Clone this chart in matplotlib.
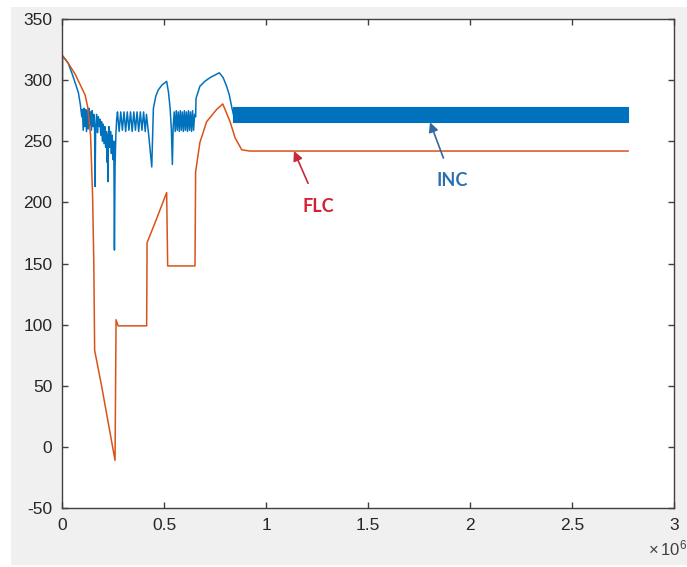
import matplotlib.pyplot as plt
from matplotlib.patches import Rectangle
from matplotlib.ticker import FuncFormatter

# --- values (x in samples, y in the plotted quantity) ---
flc_x = [0, 0.002e6, 0.03e6, 0.064e6, 0.09e6, 0.113e6, 0.126e6, 0.14e6, 0.15e6, 0.156e6,
         0.16e6, 0.195e6, 0.26e6, 0.265e6, 0.275e6, 0.415e6, 0.417e6, 0.46e6, 0.513e6,
         0.518e6, 0.652e6, 0.655e6, 0.676e6, 0.709e6, 0.758e6, 0.788e6, 0.824e6, 0.848e6,
         0.881e6, 0.92e6, 2.775e6]
flc_y = [12, 320, 314, 305, 296, 288, 278, 255, 205, 150,
         79, 49, -11, 104, 99, 99, 167, 185, 208,
         148, 148, 225, 249, 266, 276, 280.5, 266, 253,
         243, 242, 242]

inc_x = [0, 0.002e6, 0.03e6, 0.05e6, 0.07e6, 0.08e6, 0.09e6,
         # start-up ripple with dips
         0.097e6, 0.100e6, 0.104e6, 0.108e6, 0.112e6, 0.116e6, 0.120e6, 0.124e6, 0.128e6,
         0.132e6, 0.136e6, 0.140e6, 0.144e6, 0.148e6, 0.152e6, 0.156e6, 0.160e6, 0.162e6,
         0.165e6, 0.170e6, 0.174e6, 0.178e6, 0.182e6, 0.186e6, 0.190e6, 0.194e6, 0.198e6,
         0.202e6, 0.206e6, 0.210e6, 0.214e6, 0.218e6, 0.220e6, 0.222e6, 0.225e6, 0.227e6,
         0.230e6, 0.234e6, 0.238e6, 0.242e6, 0.246e6, 0.250e6, 0.254e6, 0.257e6, 0.260e6,
         0.264e6, 0.268e6,
         # first ripple band
         0.272e6, 0.280e6, 0.288e6, 0.296e6, 0.304e6, 0.312e6, 0.320e6, 0.328e6, 0.336e6,
         0.344e6, 0.352e6, 0.360e6, 0.368e6, 0.376e6, 0.384e6, 0.392e6, 0.400e6, 0.408e6,
         0.414e6,
         # first hump
         0.425e6, 0.44e6, 0.448e6, 0.46e6, 0.472e6, 0.49e6, 0.513e6, 0.522e6, 0.53e6,
         0.536e6, 0.541e6,
         # second ripple band
         0.545e6, 0.550e6, 0.555e6, 0.560e6, 0.565e6, 0.570e6, 0.575e6, 0.580e6, 0.585e6,
         0.590e6, 0.595e6, 0.600e6, 0.605e6, 0.610e6, 0.615e6, 0.620e6, 0.625e6, 0.630e6,
         0.635e6, 0.640e6, 0.645e6, 0.650e6,
         # second hump
         0.655e6, 0.657e6, 0.676e6, 0.70e6, 0.725e6, 0.771e6, 0.79e6, 0.807e6, 0.82e6,
         0.832e6, 0.84e6]
inc_y = [12, 320, 314, 305, 295, 290, 280,
         270, 276, 259, 277, 262, 276, 258, 275, 260,
         277, 263, 274, 259, 275, 262, 272, 258, 213,
         262, 272, 257, 270, 262, 268, 255, 266, 250,
         264, 248, 262, 245, 258, 233, 255, 217, 254,
         262, 245, 258, 240, 255, 235, 250, 161, 230,
         255, 268,
         274, 258, 274, 259, 274, 258, 274, 259, 274,
         258, 274, 259, 274, 258, 274, 259, 274, 258,
         272,
         255, 229, 277, 287, 292, 296, 299, 290, 277,
         260, 231,
         262, 274, 258, 275, 259, 274, 258, 275, 259,
         274, 258, 275, 259, 274, 258, 275, 259, 274,
         258, 275, 259, 272,
         270, 285, 295, 299, 302, 306, 302, 295, 288,
         278, 272]

# steady-state ripple of INC, too dense to resolve -> drawn as its envelope
inc_band_x = [0.84e6, 2.775e6]
inc_band_lo = [265.5, 265.5]
inc_band_hi = [278, 278]

x_ticks = [0, 0.5e6, 1e6, 1.5e6, 2e6, 2.5e6, 3e6]
y_ticks = [-50, 0, 50, 100, 150, 200, 250, 300, 350]

BLUE = '#0072BD'
ORANGE = '#D95319'

plt.rcParams['font.family'] = ['Liberation Sans', 'DejaVu Sans']
plt.rcParams['axes.unicode_minus'] = False
plt.rcParams['mathtext.fontset'] = 'custom'
plt.rcParams['mathtext.rm'] = 'Liberation Sans'

fig = plt.figure(figsize=(6.87, 5.67), dpi=100, facecolor='white')
# grey window background of the screenshot
fig.patches.append(Rectangle((11 / 687, 0.0035), 1 - 11 / 687, 1 - 7 / 567 - 0.0035,
                             transform=fig.transFigure, facecolor='#f0f0f0',
                             edgecolor='none', zorder=-10))

ax = fig.add_axes([62 / 687, 59 / 567, 612 / 687, 489 / 567])
ax.set_zorder(5)
ax.set_facecolor('white')

ax.plot(inc_x, inc_y, color=BLUE, linewidth=1.1)
ax.fill_between(inc_band_x, inc_band_lo, inc_band_hi, color=BLUE, linewidth=0.8,
                edgecolor=BLUE)
ax.plot(flc_x, flc_y, color=ORANGE, linewidth=1.1)

ax.set_xlim(0, 3e6)
ax.set_ylim(-50, 350)
ax.set_xticks(x_ticks)
ax.set_yticks(y_ticks)
ax.xaxis.set_major_formatter(FuncFormatter(lambda v, p: f'{v / 1e6:g}'))

for side in ['left', 'bottom', 'top', 'right']:
    ax.spines[side].set_color('#404040')
    ax.spines[side].set_linewidth(1.0)
ax.tick_params(direction='in', length=4, width=1.0, color='#404040',
               top=True, right=True, labelsize=12.5, labelcolor='#262626')
ax.tick_params(axis='x', pad=7)
ax.tick_params(axis='y', pad=7)

ax.text(0.99, -0.062, r'$\times\,\mathregular{10^{6}}$', transform=ax.transAxes,
        ha='center', va='top', fontsize=12, color='#404040')

# labels with arrows
ax.annotate('FLC', xy=(1.137e6, 242), xytext=(1.255e6, 197),
            ha='center', va='center', fontsize=13, fontweight='bold',
            fontfamily=['Lato', 'DejaVu Sans'], color='#D42030',
            arrowprops=dict(arrowstyle='-|>', color='#C8283C', lw=1.2,
                            mutation_scale=14, shrinkA=9, shrinkB=0))
ax.annotate('INC', xy=(1.804e6, 265.5), xytext=(1.912e6, 217.5),
            ha='center', va='center', fontsize=13, fontweight='bold',
            fontfamily=['Lato', 'DejaVu Sans'], color='#2A70B0',
            arrowprops=dict(arrowstyle='-|>', color='#3568A0', lw=1.2,
                            mutation_scale=14, shrinkA=9, shrinkB=0))

fig.savefig('out.png', dpi=100, facecolor=fig.get_facecolor())
